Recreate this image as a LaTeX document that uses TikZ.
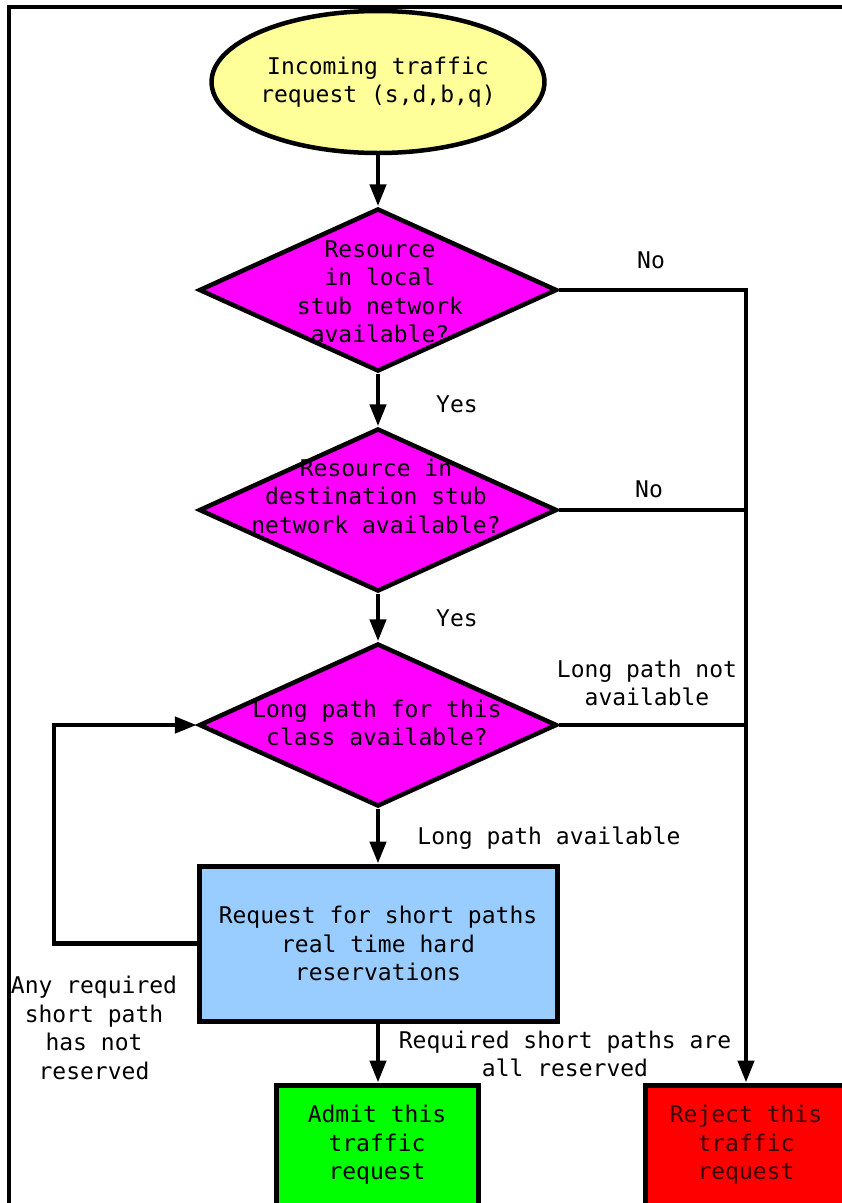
\documentclass[tikz,border=0pt]{standalone}
\usepackage{fontspec}
\setmainfont{DejaVu Sans Mono}
\usetikzlibrary{shapes.geometric,arrows.meta}

\definecolor{startfill}{HTML}{FFFF99}
\definecolor{decfill}{HTML}{FF00FF}
\definecolor{procfill}{HTML}{99CCFF}
\definecolor{admitfill}{HTML}{00FF00}
\definecolor{rejectfill}{HTML}{FF0000}
\definecolor{rejecttext}{HTML}{380000}

\tikzset{
  every node/.style={font=\fontsize{23}{28.5}\selectfont, align=center},
  startbox/.style={ellipse, draw, line width=4.5pt, fill=startfill, inner sep=0pt,
    minimum width=332pt, minimum height=142pt},
  decbox/.style={diamond, draw, line width=4.5pt, fill=decfill, inner sep=0pt,
    minimum width=358pt, minimum height=163pt},
  procbox/.style={rectangle, draw, line width=5pt, fill=procfill, inner sep=0pt,
    minimum width=358pt, minimum height=155pt},
  endbox/.style={rectangle, draw, line width=5pt, inner sep=0pt,
    minimum width=202pt, minimum height=120pt},
  label/.style={inner sep=0pt},
  flow/.style={line width=4.5pt},
  arr/.style={flow, -{Triangle[length=22pt,width=16pt]}},
}

\begin{document}
\begin{tikzpicture}[x=1pt,y=-1pt]
  \useasboundingbox (0,0) rectangle (842,1203);
  \clip (0,0) rectangle (842,1203);

  % frame around the chart
  \draw[line width=3.5pt] (9,7) rectangle (860,1230);

  % shapes
  \node[startbox] (start) at (378,82) {Incoming traffic\\request (s,d,b,q)};

  \node[decbox] (d1) at (378,290) {};
  \node[label] (d1t) at (380,292) {Resource\\in local\\stub network\\available?};

  \node[decbox] (d2) at (378,510) {};
  \node[label] (d2t) at (376,496) {Resource in\\destination stub\\network available?};

  \node[decbox] (d3) at (378,725) {};
  \node[label] (d3t) at (377,723) {Long path for this\\class available?};

  \node[procbox] (req) at (378,943.5) {Request for short paths\\real time hard\\reservations};

  \node[endbox, fill=admitfill] (admit) at (377,1145) {Admit this\\traffic\\request};
  \node[endbox, fill=rejectfill, text=rejecttext] (reject) at (746,1145) {Reject this\\traffic\\request};

  % main flow
  \draw[arr] (start.south) -- (d1.north);
  \draw[arr] (d1.south) -- (d2.north);
  \draw[arr] (d2.south) -- (d3.north);
  \draw[arr] (d3.south) -- (req.north);
  \draw[arr] (req.south) -- (req.south |- admit.north);

  % rejection branches
  \draw[arr] (d1.east) -| (reject.north);
  \draw[flow] (d2.east) -- (d2.east -| reject.north);
  \draw[flow] (d3.east) -- (d3.east -| reject.north);

  % retry loop
  \coordinate (loopx) at (54,943.5);
  \draw[arr] (req.west) -- (loopx) |- (d3.west);

  % branch labels
  \node[label] (no1) at (651,260) {No};
  \node[label] (yes1) at (457,404) {Yes};
  \node[label] (no2) at (649,489) {No};
  \node[label] (yes2) at (457,618) {Yes};
  \node[label] (lpna) at (647,683) {Long path not\\available};
  \node[label] (lpa) at (549,838) {Long path available};
  \node[label] (notres) at (94,1028) {Any required\\short path\\has not\\reserved};
  \node[label] (allres) at (565,1054) {Required short paths are\\all reserved};
\end{tikzpicture}
\end{document}
